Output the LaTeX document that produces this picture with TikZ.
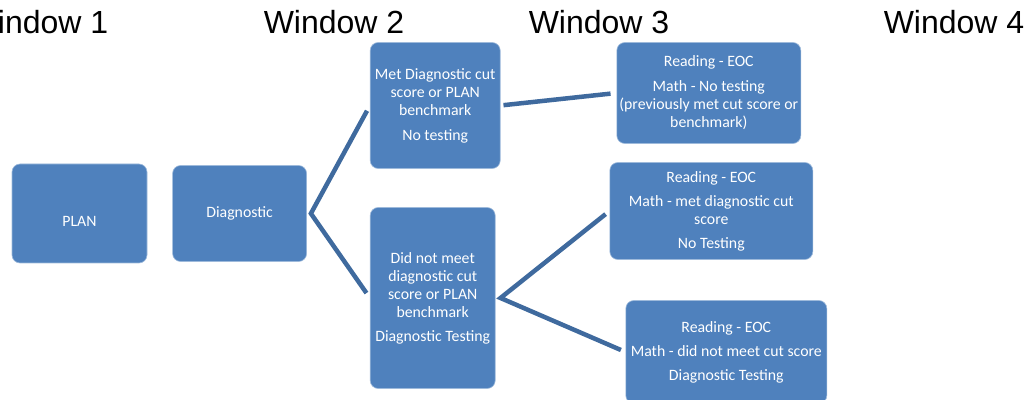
\documentclass[tikz,border=0pt]{standalone}
\usepackage{fontspec}
\setmainfont{Carlito}
\newfontfamily\headfont{Liberation Sans}
\usetikzlibrary{positioning}
\definecolor{boxblue}{HTML}{4F81BD}
\definecolor{linkblue}{HTML}{3F6A9E}

\begin{document}
\begin{tikzpicture}[x=1pt, y=1pt, node distance=25pt,
  box/.style={rectangle, rounded corners=8pt, fill=boxblue, draw=boxblue!55!white,
    line width=0.6pt, text=white, align=center, inner sep=0pt,
    font=\fontsize{15.8}{18}\selectfont},
  link/.style={draw=linkblue, line width=4.5pt},
  win/.style={anchor=base, font=\headfont\fontsize{32}{38}\selectfont}]
\useasboundingbox (0,0) rectangle (1028,399);
\clip (0,0) rectangle (1028,399);

\node[win] (w1) at (38,365) {Window 1};
\node[win] (w2) at (334,365) {Window 2};
\node[win] (w3) at (599,365) {Window 3};
\node[win] (w4) at (954,365) {Window 4};

\node[box, minimum width=135pt, minimum height=99pt, text height=29pt, text depth=3pt] (plan) at (79.5,185.5) {PLAN};
\node[box, minimum width=134pt, minimum height=96pt, right=25pt of plan] (diag) {Diagnostic};

\node[box, minimum width=130pt, minimum height=126pt, right=63pt of diag, yshift=108pt] (met)
  {Met Diagnostic cut\\score or PLAN\\benchmark\\[7pt]No testing};
\node[box, minimum width=125pt, minimum height=181pt, right=63pt of diag, yshift=-84.5pt] (notmet)
  {Did not meet\\diagnostic cut\\score or PLAN\\benchmark\\[6pt]Diagnostic Testing};

\node[box, minimum width=184pt, minimum height=101pt, right=116pt of met, yshift=12.5pt] (readA)
  {Reading - EOC\\[7pt]Math - No testing\\(previously met cut score or\\benchmark)};
\node[box, minimum width=203pt, minimum height=97pt, right=114pt of notmet, yshift=87pt] (readB)
  {Reading - EOC\\[6pt]Math - met diagnostic cut\\score\\[6pt]No Testing};
\node[box, minimum width=201pt, minimum height=103pt, right=130pt of notmet, yshift=-54pt] (readC)
  {Reading - EOC\\[6pt]Math - did not meet cut score\\[6pt]Diagnostic Testing};

% forks between the windows
\coordinate[right=4pt of diag.east] (fork);
\coordinate[right=5pt of notmet.east] (fork2);
\draw[link, shorten <=6pt, shorten >=6pt] (met.west) -- (fork) -- (notmet.west);
\draw[link, shorten <=3pt, shorten >=6pt] (met.east) -- (readA.west);
\draw[link, shorten <=5pt, shorten >=5pt] (readB.west) -- (fork2) -- (readC.west);

\end{tikzpicture}
\end{document}
